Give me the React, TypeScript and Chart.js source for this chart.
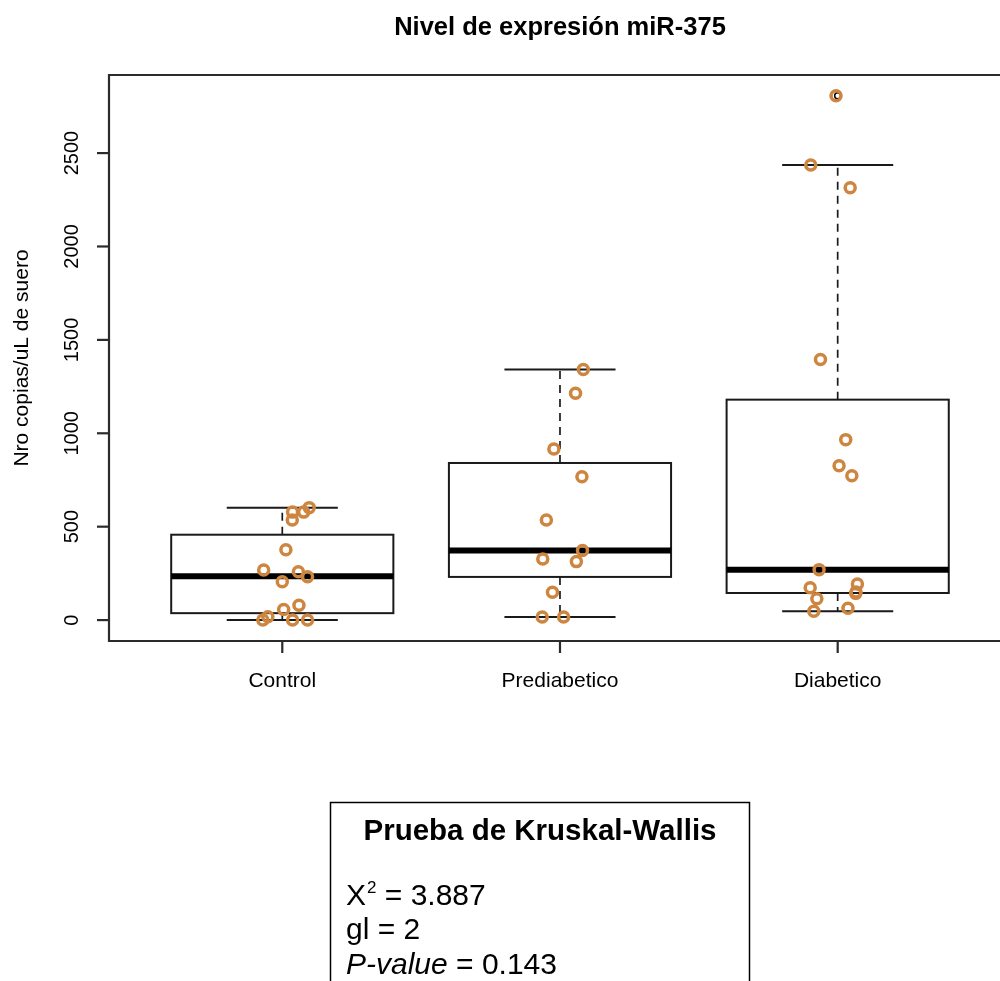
import React, { useEffect, useRef } from "react";
import { Chart, registerables } from "chart.js";

Chart.register(...registerables);

// ---- data ----
const categories = ["Control", "Prediabetico", "Diabetico"];
const yTicks = [0, 500, 1000, 1500, 2000, 2500];

const controlValues = [602, 578, 578, 536, 376, 268, 259, 232, 205, 79, 57, 18, 0, 0, 0];
const controlJitter = [0.097, 0.077, 0.037, 0.036, 0.013, -0.067, 0.058, 0.091, 0.0, 0.06, 0.005, -0.052, -0.07, 0.037, 0.091];

const prediabValues = [1341, 1214, 916, 767, 536, 372, 327, 313, 149, 16, 16];
const prediabJitter = [0.084, 0.056, -0.022, 0.079, -0.049, 0.081, -0.062, 0.059, -0.027, -0.064, 0.013];

const diabValues = [2807, 2436, 2314, 1395, 966, 826, 773, 270, 193, 173, 150, 143, 114, 63, 47];
const diabJitter = [-0.006, -0.097, 0.045, -0.062, 0.029, 0.005, 0.051, -0.067, 0.071, -0.099, 0.066, 0.065, -0.075, 0.037, -0.086];

const lowerWhisker = [0, 16, 47];
const q1 = [37, 231, 145];
const median = [234, 372, 270];
const q3 = [457, 841, 1180];
const upperWhisker = [602, 1341, 2436];
const outlierGroup = [3];
const outlierValues = [2807];

const chartTitle = "Nivel de expresión miR-375";
const yTitle = "Nro copias/uL de suero";
const statsTitle = "Prueba de Kruskal-Wallis";
const statsChi = "3.887";
const statsGl = "2";
const statsP = "0.143";

const FONT = "'Liberation Sans', Arial, Helvetica, sans-serif";
const POINT_COLOR = "#CD853F";

function buildPoints() {
  const groups = [
    [controlValues, controlJitter],
    [prediabValues, prediabJitter],
    [diabValues, diabJitter],
  ] as const;
  const pts: { x: number; y: number }[] = [];
  groups.forEach(([vals, jit], gi) => {
    vals.forEach((v, k) => pts.push({ x: gi + 1 + jit[k], y: v }));
  });
  return pts;
}

const boxPlugin = {
  id: "boxplotR",
  beforeDatasetsDraw(chart: any) {
    const ctx = chart.ctx as CanvasRenderingContext2D;
    const xs = chart.scales.x;
    const ys = chart.scales.y;
    ctx.save();
    categories.forEach((_, i) => {
      const c = i + 1;
      const xl = xs.getPixelForValue(c - 0.4);
      const xr = xs.getPixelForValue(c + 0.4);
      const xc = xs.getPixelForValue(c);
      const sl = xs.getPixelForValue(c - 0.2);
      const sr = xs.getPixelForValue(c + 0.2);
      const yq1 = ys.getPixelForValue(q1[i]);
      const yq3 = ys.getPixelForValue(q3[i]);
      const ymed = ys.getPixelForValue(median[i]);
      const ylo = ys.getPixelForValue(lowerWhisker[i]);
      const yhi = ys.getPixelForValue(upperWhisker[i]);
      ctx.strokeStyle = "#1a1a1a";
      ctx.lineWidth = 1.7;
      ctx.setLineDash([8, 6]);
      ctx.beginPath();
      ctx.moveTo(xc, yq3);
      ctx.lineTo(xc, yhi);
      ctx.moveTo(xc, yq1);
      ctx.lineTo(xc, ylo);
      ctx.stroke();
      ctx.setLineDash([]);
      ctx.lineWidth = 2;
      ctx.beginPath();
      ctx.moveTo(sl, yhi);
      ctx.lineTo(sr, yhi);
      ctx.moveTo(sl, ylo);
      ctx.lineTo(sr, ylo);
      ctx.stroke();
      ctx.lineWidth = 2;
      ctx.strokeRect(xl, yq3, xr - xl, yq1 - yq3);
      ctx.lineWidth = 6;
      ctx.strokeStyle = "#000";
      ctx.beginPath();
      ctx.moveTo(xl, ymed);
      ctx.lineTo(xr, ymed);
      ctx.stroke();
    });
    ctx.restore();
  },
  afterDraw(chart: any) {
    const ctx = chart.ctx as CanvasRenderingContext2D;
    const xs = chart.scales.x;
    const ys = chart.scales.y;
    const area = chart.chartArea;
    ctx.save();
    ctx.strokeStyle = "#2b2b2b";
    ctx.lineWidth = 2.2;
    ctx.beginPath();
    ctx.moveTo(1010, area.top);
    ctx.lineTo(area.left, area.top);
    ctx.lineTo(area.left, area.bottom);
    ctx.lineTo(1010, area.bottom);
    ctx.stroke();

    ctx.fillStyle = "#000";
    ctx.font = `20px ${FONT}`;
    ctx.textAlign = "center";
    ctx.textBaseline = "middle";
    yTicks.forEach((t) => {
      const y = ys.getPixelForValue(t);
      ctx.beginPath();
      ctx.moveTo(area.left, y);
      ctx.lineTo(area.left - 12, y);
      ctx.stroke();
      ctx.save();
      ctx.translate(72, y);
      ctx.rotate(-Math.PI / 2);
      ctx.fillText(String(t), 0, 0);
      ctx.restore();
    });
    ctx.font = `21px ${FONT}`;
    categories.forEach((name, i) => {
      const x = xs.getPixelForValue(i + 1);
      ctx.beginPath();
      ctx.moveTo(x, area.bottom);
      ctx.lineTo(x, area.bottom + 12);
      ctx.stroke();
      ctx.fillText(name, x, 681);
    });
    ctx.save();
    ctx.translate(22, (area.top + area.bottom) / 2);
    ctx.rotate(-Math.PI / 2);
    ctx.fillText(yTitle, 0, 0);
    ctx.restore();
    ctx.font = `bold 25.5px ${FONT}`;
    ctx.fillText(chartTitle, 560, 28);

    ctx.strokeStyle = "#000";
    ctx.lineWidth = 1.5;
    ctx.strokeRect(330.5, 802.5, 419, 260);
    ctx.font = `bold 29.5px ${FONT}`;
    ctx.fillText(statsTitle, 540, 832);
    ctx.textAlign = "left";
    const lx = 346;
    ctx.font = `30px ${FONT}`;
    ctx.fillText("X", lx, 897);
    const w = ctx.measureText("X").width;
    ctx.font = `17px ${FONT}`;
    ctx.fillText("2", lx + w + 1, 888);
    const w2 = ctx.measureText("2").width;
    ctx.font = `30px ${FONT}`;
    ctx.fillText(` = ${statsChi}`, lx + w + w2 + 1, 897);
    ctx.fillText(`gl = ${statsGl}`, lx, 931);
    ctx.font = `italic 30px ${FONT}`;
    ctx.fillText("P-value", lx, 966);
    const wp = ctx.measureText("P-value").width;
    ctx.font = `30px ${FONT}`;
    ctx.fillText(` = ${statsP}`, lx + wp, 966);
    ctx.restore();
  },
};

export default function App() {
  const ref = useRef<HTMLCanvasElement | null>(null);
  useEffect(() => {
    if (!ref.current) return;
    const chart = new Chart(ref.current, {
      type: "scatter",
      data: {
        datasets: [
          {
            label: "points",
            data: buildPoints(),
            pointStyle: "circle",
            pointRadius: 5,
            pointBorderWidth: 3.5,
            borderColor: POINT_COLOR,
            backgroundColor: "rgba(0,0,0,0)",
            pointHoverRadius: 5,
          },
          {
            label: "outliers",
            data: outlierGroup.map((g, k) => ({ x: g, y: outlierValues[k] })),
            pointStyle: "circle",
            pointRadius: 3,
            pointBorderWidth: 1.5,
            borderColor: "#000",
            backgroundColor: "rgba(0,0,0,0)",
          },
        ],
      },
      options: {
        responsive: false,
        animation: false,
        events: [],
        layout: { autoPadding: false, padding: { left: 109, right: 0, top: 75, bottom: 340 } },
        plugins: { legend: { display: false }, tooltip: { enabled: false }, title: { display: false } },
        scales: {
          x: { type: "linear", min: 0.376, max: 3.5845, display: false },
          y: { type: "linear", min: -112, max: 2918, display: false },
        },
      },
      plugins: [boxPlugin],
    });
    return () => chart.destroy();
  }, []);
  return (
    <div style={{ position: "absolute", left: 0, top: 0, width: 1000, height: 981, background: "#fff" }}>
      <canvas ref={ref} width={1000} height={981} style={{ display: "block" }} />
    </div>
  );
}
